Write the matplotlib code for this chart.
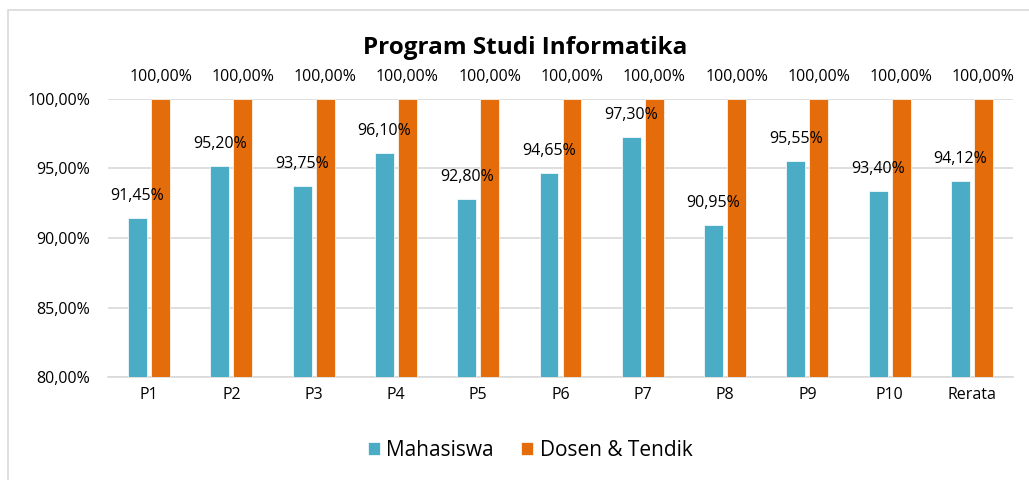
import matplotlib
matplotlib.use("Agg")
import matplotlib.pyplot as plt
from matplotlib.patches import Rectangle
import numpy as np

categories = ["P1", "P2", "P3", "P4", "P5", "P6", "P7", "P8", "P9", "P10", "Rerata"]
mahasiswa = [91.45, 95.20, 93.75, 96.10, 92.80, 94.65, 97.30, 90.95, 95.55, 93.40, 94.12]
dosen = [100.00] * 11
yticks = [80, 85, 90, 95, 100]
title = "Program Studi Informatika"
series_names = ["Mahasiswa", "Dosen & Tendik"]

BLUE = "#4BACC6"
ORANGE = "#E46C0A"
GRID = "#D9D9D9"

plt.rcParams['font.family'] = ['Open Sans', 'DejaVu Sans']

def fmt(v):
    return f"{v:.2f}".replace(".", ",") + "%"

fig = plt.figure(figsize=(10.29, 4.80), dpi=100)
fig.patches.append(Rectangle((8/1029, -0.1), 1.2, 1 - 10/480 + 0.1, transform=fig.transFigure,
                             fill=False, edgecolor="#D9D9D9", linewidth=1.2))

ax = fig.add_axes([108/1029, 1 - 377/480, (1013-108)/1029, (377-99)/480])
x = np.arange(len(categories))
w = 0.23
off = 0.14
b1 = ax.bar(x - off, mahasiswa, w, color=BLUE, label=series_names[0], zorder=3,
            edgecolor="white", linewidth=0.5)
b2 = ax.bar(x + off, dosen, w, color=ORANGE, label=series_names[1], zorder=3,
            edgecolor="white", linewidth=0.5)

ax.set_ylim(80, 100)
ax.set_xlim(-0.5, len(categories) - 0.5)
ax.set_yticks(yticks)
ax.set_yticklabels([fmt(v) for v in yticks], fontsize=11.5)
ax.set_xticks(x)
ax.set_xticklabels(categories, fontsize=11.5)
ax.tick_params(length=0, pad=7)
ax.tick_params(axis='y', pad=13)
ax.grid(axis='y', color=GRID, linewidth=1.2, zorder=0)
for s in ["left", "right", "top"]:
    ax.spines[s].set_visible(False)
ax.spines["bottom"].set_color(GRID)
ax.spines["bottom"].set_linewidth(1.2)

for xi, v in zip(x, mahasiswa):
    ax.annotate(fmt(v), (xi - off, v), xytext=(0, 10), textcoords="offset points",
                ha="center", va="bottom", fontsize=11.5, annotation_clip=False)
for xi, v in zip(x, dosen):
    ax.annotate(fmt(v), (xi + off, v), xytext=(0, 10), textcoords="offset points",
                ha="center", va="bottom", fontsize=11.5, annotation_clip=False)

fig.text(525/1029, 1 - 48/480, title, ha="center", va="center", fontsize=17.5, fontweight="bold")

leg = fig.legend(handles=[b1, b2], labels=series_names, loc="center",
                 bbox_to_anchor=(530/1029, 1 - 450/480), ncol=2, frameon=False,
                 fontsize=15, handlelength=0.6, handleheight=0.6, columnspacing=1.3,
                 handletextpad=0.3)

fig.savefig("out.png", dpi=100)
